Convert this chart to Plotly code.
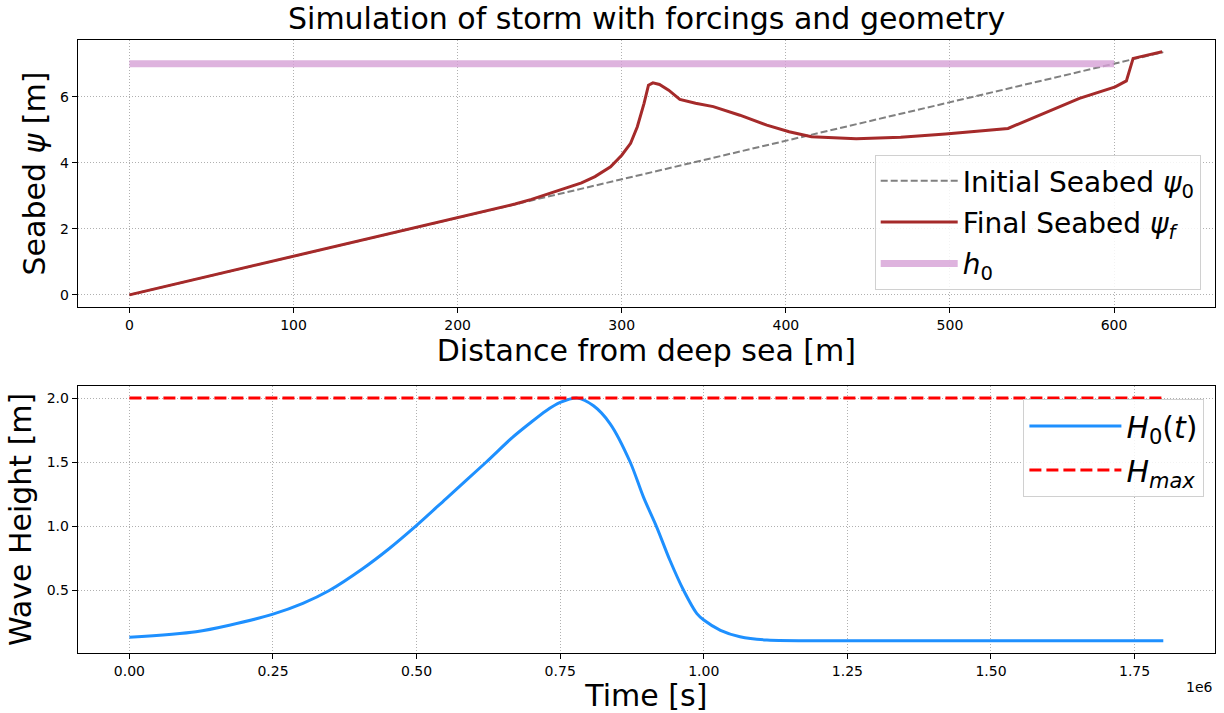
import plotly.graph_objects as go

# ---------------- data ----------------
# Top panel: seabed profiles (distance in m, elevation in m)
initial_x = [0, 630]
initial_y = [0.0, 7.35]

final_x = [0, 100, 200, 225, 235, 245, 257.8, 275.5, 283.7, 293.2, 300, 305.4, 309.5,
           313.6, 316.3, 319, 323, 328.6, 335.4, 345, 355.8, 372, 388.4, 402, 415.6,
           442.9, 470, 497.3, 535.4, 551.7, 578.9, 600.7, 607.5, 611.6, 629.3]
final_y = [0.0, 1.167, 2.333, 2.625, 2.75, 2.89, 3.10, 3.39, 3.58, 3.88, 4.23, 4.59, 5.09,
           5.80, 6.35, 6.42, 6.37, 6.20, 5.92, 5.80, 5.70, 5.44, 5.14, 4.94, 4.79,
           4.73, 4.77, 4.87, 5.04, 5.39, 5.95, 6.30, 6.48, 7.16, 7.36]

h0_x = [0, 600]
h0_y = [7.0, 7.0]

# Bottom panel: wave height forcing (time in s, height in m)
time_s = [0, 116000, 174000, 250000, 302000, 348000, 406000, 452000, 500000, 551000,
          621000, 667000, 696000, 725000, 750000, 780000, 808000, 837000, 872000,
          895000, 918000, 941000, 965000, 988000, 1000000, 1029000, 1063000, 1110000,
          1270000, 1800000]
H0 = [0.135, 0.179, 0.23, 0.316, 0.40, 0.50, 0.67, 0.826, 1.008, 1.215,
      1.5, 1.694, 1.80, 1.90, 1.966, 2.0, 1.94, 1.80, 1.5,
      1.228, 0.995, 0.736, 0.50, 0.32, 0.27, 0.19, 0.14, 0.114,
      0.109, 0.109]
Hmax_t = [0, 1800000]
Hmax = [2.0, 2.0]

top_xticks = [0, 100, 200, 300, 400, 500, 600]
top_yticks = [0, 2, 4, 6]
bot_xticks = [0, 250000, 500000, 750000, 1000000, 1250000, 1500000, 1750000]
bot_xticklabels = ["0.00", "0.25", "0.50", "0.75", "1.00", "1.25", "1.50", "1.75"]
bot_yticks = [0.5, 1.0, 1.5, 2.0]

# ---------------- figure ----------------
FONT = "DejaVu Sans"
W, H = 1224, 713

fig = go.Figure()

fig.add_trace(go.Scatter(x=initial_x, y=initial_y, mode="lines",
                         name="Initial Seabed <i>ψ</i><sub>0</sub>",
                         line=dict(color="#808080", width=2, dash="7px,3px"),
                         xaxis="x", yaxis="y", legend="legend", legendgroup="a"))
fig.add_trace(go.Scatter(x=final_x, y=final_y, mode="lines",
                         name="Final Seabed <i>ψ<sub>f</sub></i>",
                         line=dict(color="#A52A2A", width=3),
                         xaxis="x", yaxis="y", legend="legend", legendgroup="b"))
fig.add_trace(go.Scatter(x=h0_x, y=h0_y, mode="lines",
                         name="<i>h</i><sub>0</sub>",
                         line=dict(color="rgba(214,160,214,0.8)", width=7),
                         xaxis="x", yaxis="y", legend="legend", legendgroup="c"))

fig.add_trace(go.Scatter(x=time_s, y=H0, mode="lines",
                         name="<i>H</i><sub>0</sub>(<i>t</i>)",
                         line=dict(color="#1E90FF", width=3, shape="spline", smoothing=0.8),
                         xaxis="x2", yaxis="y2", legend="legend2", legendgroup="d"))
fig.add_trace(go.Scatter(x=Hmax_t, y=Hmax, mode="lines",
                         name="<i>H<sub>max</sub></i>",
                         line=dict(color="#FF0000", width=3, dash="12px,5px"),
                         xaxis="x2", yaxis="y2", legend="legend2", legendgroup="e"))

xdom = [77.7 / W, 1215 / W]
top_dom = [1 - 307 / H, 1 - 40 / H]
bot_dom = [1 - 652.7 / H, 1 - 386 / H]

axis_common = dict(
    showline=True, linecolor="black", linewidth=1, mirror=True,
    ticks="outside", ticklen=5, tickwidth=1, tickcolor="black",
    showgrid=True, gridcolor="#b0b0b0", gridwidth=1, griddash="1px,2px",
    zeroline=False, tickfont=dict(family=FONT, size=14, color="black"),
    automargin=False,
)

fig.update_layout(
    width=W, height=H,
    margin=dict(l=0, r=0, t=0, b=0),
    paper_bgcolor="white", plot_bgcolor="white",
    font=dict(family=FONT, color="black"),
    xaxis=dict(axis_common, domain=xdom, anchor="y", range=[-31.5, 661.5],
               tickvals=top_xticks,
               title=dict(text="Distance from deep sea [m]", standoff=4,
                          font=dict(family=FONT, size=30))),
    yaxis=dict(axis_common, domain=top_dom, anchor="x", range=[-0.3675, 7.7175],
               tickvals=top_yticks,
               title=dict(text="Seabed <i>ψ</i> [m]", standoff=5,
                          font=dict(family=FONT, size=30))),
    xaxis2=dict(axis_common, domain=xdom, anchor="y2", range=[-90000, 1890000],
                tickvals=bot_xticks, ticktext=bot_xticklabels,
                title=dict(text="Time [s]", standoff=4,
                           font=dict(family=FONT, size=30))),
    yaxis2=dict(axis_common, domain=bot_dom, anchor="x2", range=[0.0155, 2.0945],
                tickvals=bot_yticks, tickformat=".1f",
                title=dict(text="Wave Height [m]", standoff=6,
                           font=dict(family=FONT, size=30))),
    legend=dict(x=1200.7 / W, xanchor="right", y=1 - 155 / H, yanchor="top",
                bgcolor="rgba(255,255,255,0.85)", bordercolor="#d0d0d0", borderwidth=1,
                font=dict(family=FONT, size=28, color="black"), itemwidth=77,
                tracegroupgap=2, traceorder="grouped"),
    legend2=dict(x=1204.4 / W, xanchor="right", y=1 - 399 / H, yanchor="top",
                 bgcolor="rgba(255,255,255,0.85)", bordercolor="#d0d0d0", borderwidth=1,
                 font=dict(family=FONT, size=30, color="black"), itemwidth=92,
                 tracegroupgap=2, traceorder="grouped"),
    showlegend=True,
    annotations=[
        dict(text="Simulation of storm with forcings and geometry",
             x=646 / W, y=1 - 18 / H, xref="paper", yref="paper",
             xanchor="center", yanchor="middle", showarrow=False,
             font=dict(family=FONT, size=30, color="black")),
        dict(text="1e6", x=1215 / W, y=1 - 687 / H, xref="paper", yref="paper",
             xanchor="right", yanchor="middle", showarrow=False,
             font=dict(family=FONT, size=14, color="black")),
    ],
)

fig.write_html("out.html", config={"displayModeBar": False},
               post_script="document.body.style.margin='0';")
